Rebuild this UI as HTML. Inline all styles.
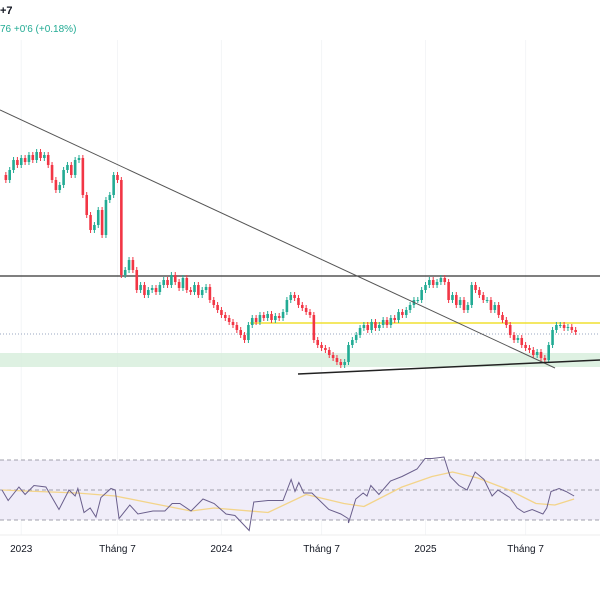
<!DOCTYPE html>
<html><head><meta charset="utf-8"><style>
body{margin:0;background:#fff;font-family:"Liberation Sans",sans-serif}
svg{display:block}
</style></head><body>
<svg id="c" width="600" height="600">
<text x="0" y="14" font-size="11" font-weight="bold" fill="#131722">+7</text>
<text x="0" y="32" font-size="10" fill="#22ab94">76  +0'6 (+0.18%)</text>
</svg>
<script>
const closes=[225,220,230,240,235,242,238,245,240,248,242,245,235,220,210,215,230,235,225,240,242,205,185,170,175,190,165,200,205,225,220,125,130,140,130,110,115,105,110,112,108,115,120,115,125,118,112,122,110,108,115,105,110,113,100,95,90,85,82,78,75,70,65,60,75,82,78,85,82,86,80,84,82,88,100,105,102,95,92,88,85,60,55,52,50,45,42,38,35,38,55,60,65,72,75,70,78,72,75,80,75,82,80,88,85,90,95,100,100,110,115,120,115,118,122,118,100,105,95,100,90,95,115,110,105,100,100,90,95,85,80,75,65,60,62,55,52,50,45,48,42,40,55,70,75,75,72,73,70,68];
const rsiWeek=[0,1.6,4.4,6,8.3,11.4,13,14.8,17.4,19,19.7,21.3,22.9,24.4,25.7,28.3,29.4,30.4,33.2,35.3,39.2,42.3,44.2,46.2,49.1,52.2,55.1,58.2,60.5,64.2,65.4,69.1,73,75.1,76.1,77.1,78.4,80.5,84.9,88,89.9,90,91.9,93.8,94.8,95.8,97.9,100.9,103.9,107.8,109.9,111.7,114.8,116.4,118.7,120.8,122.9,125.2,127.3,128.8,131.9,133.8,135.6,137.7,140.5,141.5,142.6,144.7,146.5,148.6];
const rsiVals=[50,43,52,47,53,52,45,37,50,46,51,35,38,32,45,51,50,31,40,34,36,36,41,41,36,44,41,34,33,23,42,43,43,57,49,55,48,48,37,34,31,28,44,48,46,53,47,56,59,64,71,71,72,59,53,50,62,57,46,50,45,38,35,37,34,38,49,51,49,46];
const maWeek=[0,9.4,19.5,29.4,39.2,49.1,55.1,69.1,79,88.8,94,103.9,111.7,117,123.6,131.7,138.7,143.6,148.6];
const maVals=[50,49,48,46,41,36,38,35,47,41,39,52,59,62,58,50,41,40,44];
const yearLabels=["2023","Tháng 7","2024","Tháng 7","2025","Tháng 7"];
const yearIdx=[5,30,57,83,110,136];
const svg=document.getElementById('c');
const NS='http://www.w3.org/2000/svg';
const xOf=i=>2+i*3.85;
const yOf=p=>400-p;
const rsiY=v=>490-(v-50)*1.5;
function mk(t,a,name){const e=document.createElementNS(NS,t);for(const k in a)e.setAttribute(k,a[k]);


svg.appendChild(e);return e;}
yearIdx.forEach(k=>mk('line',{x1:xOf(k),x2:xOf(k),y1:40,y2:535,stroke:'#f4f5f7'},'grid-line'));
mk('rect',{x:0,y:353,width:600,height:14,fill:'#d6eedb',opacity:0.8},'support-zone');
mk('line',{x1:0,x2:600,y1:276,y2:276,stroke:'#333',"stroke-width":1.2},'resistance-line');
mk('line',{x1:250,x2:600,y1:323,y2:323,stroke:'#f0e030',"stroke-width":1.5},'yellow-level');
mk('line',{x1:0,x2:600,y1:334,y2:334,stroke:'#9aa7c0',"stroke-dasharray":"1,2"},'last-price-line');
for(let i=1;i<closes.length;i++){const o=closes[i-1],c=closes[i];const up=c>=o;const col=up?'#22ab94':'#f23645';
const hi=Math.max(o,c)+3,lo=Math.min(o,c)-3;const x=xOf(i);
mk('line',{x1:x,x2:x,y1:yOf(hi),y2:yOf(lo),stroke:col},'candle-wick');
mk('rect',{x:x-1.3,y:yOf(Math.max(o,c)),width:2.6,height:Math.max(1,Math.abs(c-o)),fill:col},'candle-body');}
mk('line',{x1:0,x2:555,y1:110,y2:368,stroke:'#555',"stroke-width":1},'downtrend-line');
mk('line',{x1:298,x2:600,y1:374,y2:360,stroke:'#222',"stroke-width":1.5},'support-trendline');
mk('rect',{x:0,y:460,width:600,height:60,fill:'#f0edf9'},'rsi-band');
[460,490,520].forEach(y=>mk('line',{x1:0,x2:600,y1:y,y2:y,stroke:'#a0a0ac',"stroke-dasharray":"4,3"},'rsi-level'));
const maPts=maWeek.map((w,i)=>xOf(w)+','+rsiY(maVals[i]));
mk('polyline',{points:maPts.join(' '),fill:'none',stroke:'#f3d48a',"stroke-width":1.3,"stroke-linejoin":"round"},'rsi-ma-line');
const rPts=rsiWeek.map((w,i)=>xOf(w)+','+rsiY(rsiVals[i]));
mk('polyline',{points:rPts.join(' '),fill:'none',stroke:'#6a5f8c',"stroke-width":1},'rsi-line');
mk('line',{x1:0,x2:600,y1:535,y2:535,stroke:'#eee'},'axis-separator');
yearLabels.forEach((t,j)=>{const e=mk('text',{x:xOf(yearIdx[j]),y:552,"font-size":10,fill:'#131722',"text-anchor":"middle"},'x-axis-label');e.textContent=t;});
</script>
</body></html>
